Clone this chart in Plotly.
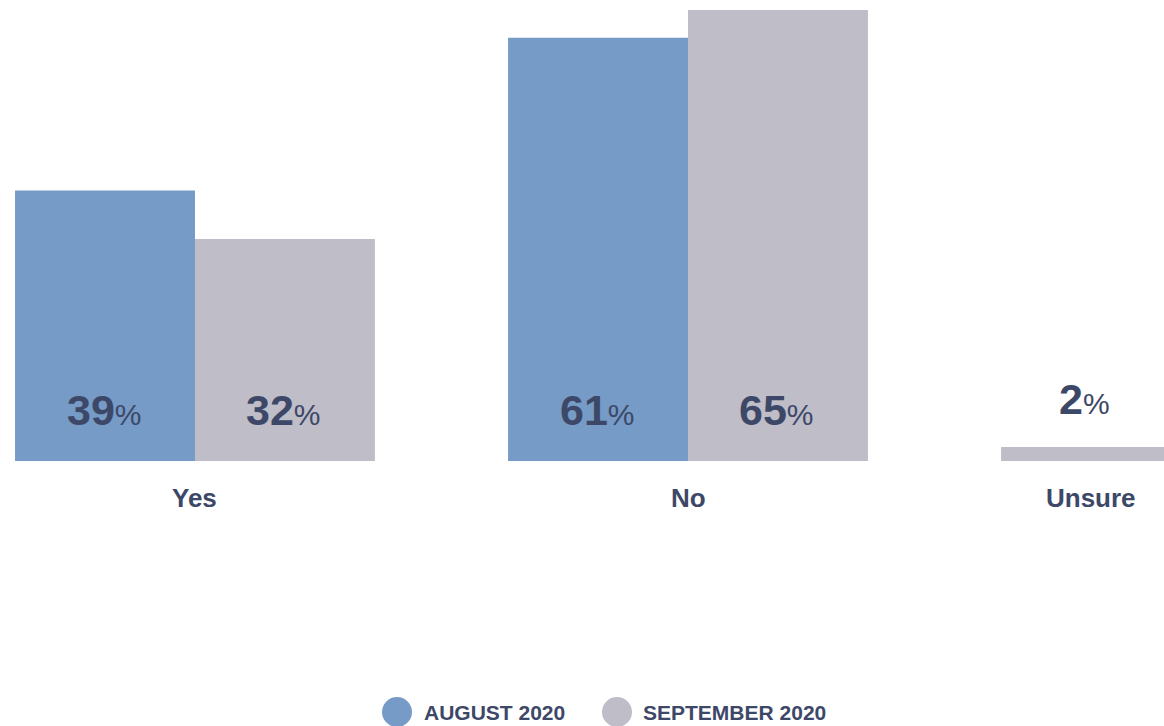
import plotly.graph_objects as go

# Survey responses, share of respondents (%)
categories = ["Yes", "No", "Unsure"]
august_2020 = [39, 61, None]
september_2020 = [32, 65, 2]
series_names = ["AUGUST 2020", "SEPTEMBER 2020"]

BLUE = "#769bc6"
GREY = "#bfbdc8"
INK = "#3d4868"
FONT = "Liberation Sans, Arial, sans-serif"

BAR_W = 0.365  # bar width in category units

# Where each bar sits relative to its category: August on the left slot,
# September on the right slot; a lone bar takes the left slot.
def slot_offsets(values, other, own_slot):
    offs = []
    for v, o in zip(values, other):
        if own_slot == 1 and o is None:
            offs.append(-BAR_W)
        else:
            offs.append(-BAR_W if own_slot == 0 else 0.0)
    return offs

aug_off = slot_offsets(august_2020, september_2020, 0)
sep_off = slot_offsets(september_2020, august_2020, 1)

fig = go.Figure()
fig.add_trace(go.Bar(x=categories, y=august_2020, name=series_names[0],
                     marker=dict(color=BLUE, line=dict(width=0)),
                     width=BAR_W, offset=aug_off, showlegend=False,
                     hoverinfo="skip"))
fig.add_trace(go.Bar(x=categories, y=september_2020, name=series_names[1],
                     marker=dict(color=GREY, line=dict(width=0)),
                     width=BAR_W, offset=sep_off, showlegend=False,
                     hoverinfo="skip"))

annotations = []

def value_label(v):
    return (f"<b>{v}</b><span style='font-size:30px;font-weight:normal'>%</span>")

# value labels: inside near the base for tall bars, above the bar for short ones
bar_centres = {c: [] for c in categories}
for vals, offs in ((august_2020, aug_off), (september_2020, sep_off)):
    for i, (c, v, off) in enumerate(zip(categories, vals, offs)):
        if v is None:
            continue
        xc = i + off + BAR_W / 2
        bar_centres[c].append(xc)
        if v >= 10:
            annotations.append(dict(x=xc, y=0, xref="x", yref="y",
                                    text=value_label(v), showarrow=False,
                                    yanchor="middle", yshift=51, xshift=-1,
                                    font=dict(size=43, color=INK, family=FONT)))
        else:
            annotations.append(dict(x=xc, y=v, xref="x", yref="y",
                                    text=value_label(v), showarrow=False,
                                    yanchor="middle", yshift=48, xshift=-7,
                                    font=dict(size=43, color=INK, family=FONT)))

# category labels, centred under the drawn bars
for c in categories:
    xs = bar_centres[c]
    annotations.append(dict(x=sum(xs) / len(xs), y=-0.0803, xref="x", yref="paper",
                            text=f"<b>{c}</b>", showarrow=False, yanchor="middle",
                            font=dict(size=26, color=INK, family=FONT)))

# legend drawn as circles with labels along the bottom
shapes = []
legend_items = [(series_names[0], BLUE, 397 / 1164, 422 / 1164),
                (series_names[1], GREY, 617 / 1164, 641 / 1164)]
ly = (461 - 712) / 461
r_x = 15 / 1164
r_y = 15 / 461
for name, col, cx, tx in legend_items:
    shapes.append(dict(type="circle", xref="paper", yref="paper",
                       x0=cx - r_x, x1=cx + r_x, y0=ly - r_y, y1=ly + r_y,
                       fillcolor=col, line=dict(width=0)))
    annotations.append(dict(x=tx, y=ly, xref="paper", yref="paper",
                            text=f"<b>{name}</b>", showarrow=False,
                            xanchor="left", yanchor="middle",
                            font=dict(size=21, color=INK, family=FONT)))

fig.update_layout(
    width=1164, height=726,
    margin=dict(l=0, r=0, t=0, b=265, pad=0),
    paper_bgcolor="white", plot_bgcolor="white",
    barmode="overlay",
    xaxis=dict(type="category", categoryorder="array", categoryarray=categories,
               range=[-0.3955, 1.9655], showticklabels=False, showgrid=False,
               zeroline=False, showline=False, ticks=""),
    yaxis=dict(range=[0, 66.44], visible=False, showgrid=False, zeroline=False),
    annotations=annotations,
    shapes=shapes,
    showlegend=False,
)

fig.write_html("out.html")
